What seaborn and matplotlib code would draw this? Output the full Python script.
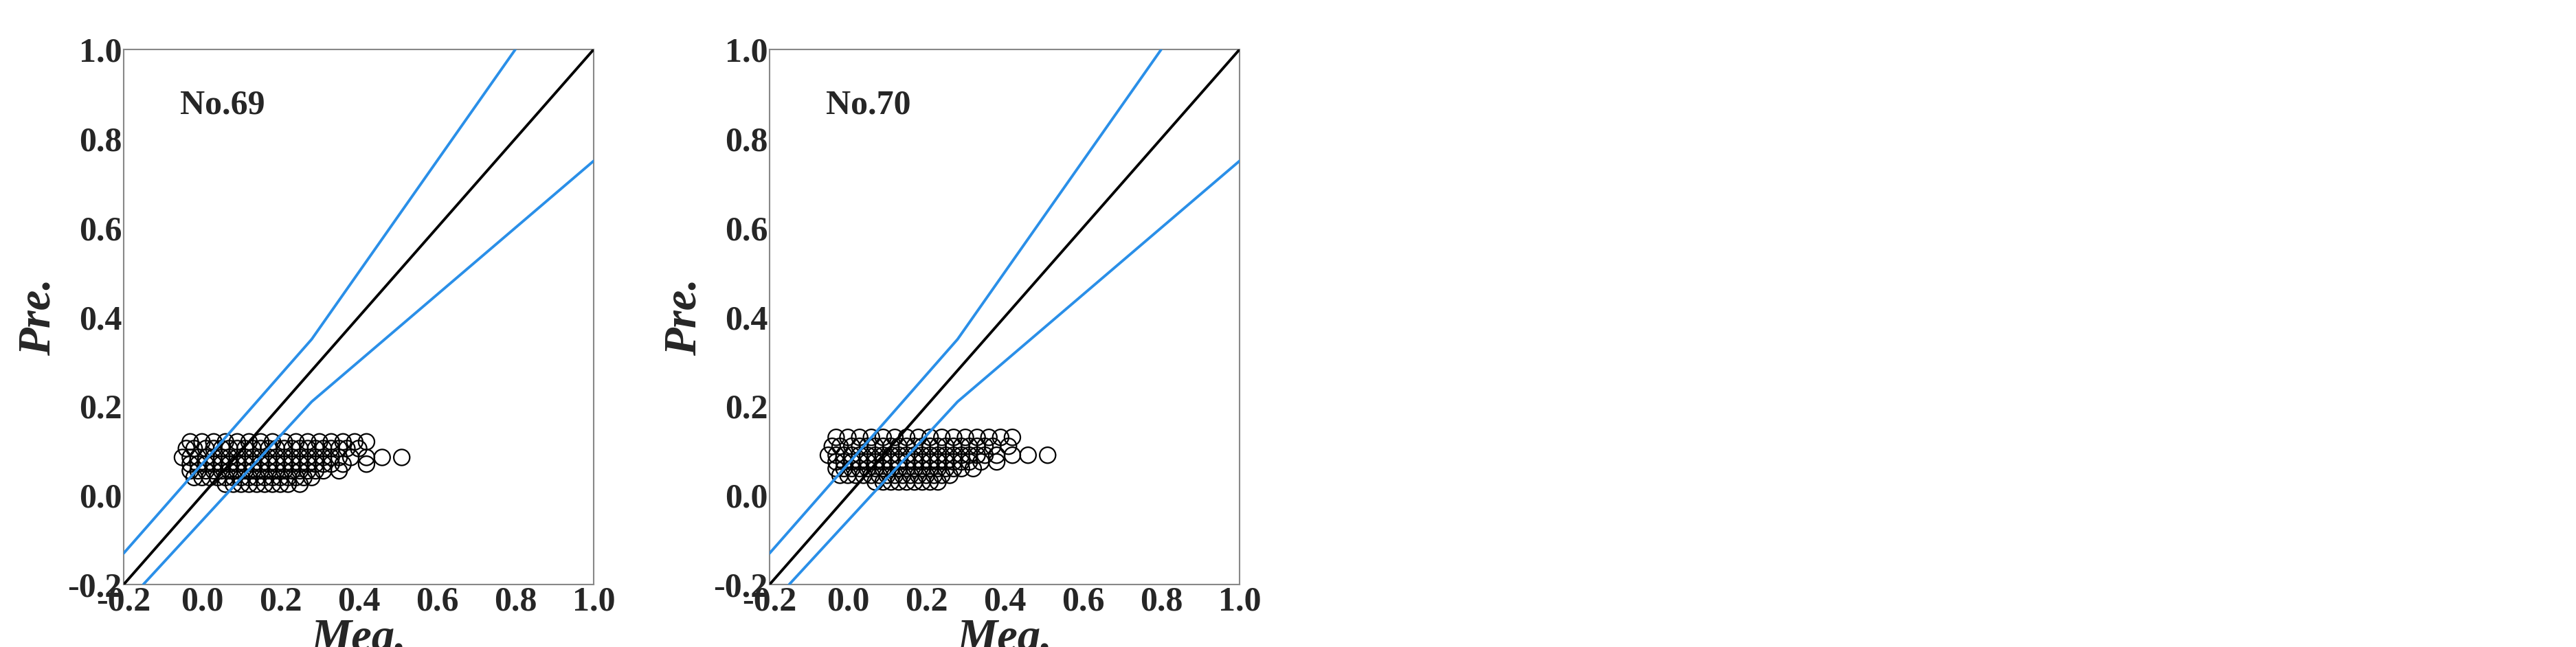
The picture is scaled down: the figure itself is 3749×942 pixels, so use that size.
import matplotlib
matplotlib.use('Agg')
import matplotlib.pyplot as plt
import seaborn as sns
import pandas as pd

sns.set_style('white')
plt.rcParams['font.family'] = ['Liberation Serif', 'DejaVu Serif']
plt.rcParams['font.weight'] = 'bold'

x69 = [-0.03, 0.0, 0.03, 0.06, 0.09, 0.12, 0.15, 0.18, 0.21, 0.24, 0.27, 0.30, 0.33, 0.36, 0.39, 0.42,
       -0.04, -0.02, 0.01, 0.03, 0.05, 0.07, 0.09, 0.11, 0.13, 0.15, 0.17, 0.19, 0.21, 0.23, 0.25, 0.27, 0.29, 0.31, 0.33, 0.35, 0.37, 0.40,
       -0.05, -0.03, -0.01, 0.01, 0.03, 0.05, 0.07, 0.09, 0.11, 0.13, 0.15, 0.17, 0.19, 0.21, 0.23, 0.25, 0.27, 0.29, 0.31, 0.33, 0.35, 0.38, 0.42, 0.46, 0.51,
       -0.03, -0.01, 0.01, 0.03, 0.05, 0.07, 0.09, 0.11, 0.13, 0.15, 0.17, 0.19, 0.21, 0.23, 0.25, 0.27, 0.29, 0.31, 0.33, 0.36, 0.42,
       -0.03, -0.01, 0.01, 0.03, 0.05, 0.07, 0.09, 0.11, 0.13, 0.15, 0.17, 0.19, 0.21, 0.23, 0.25, 0.27, 0.29, 0.31, 0.35,
       -0.02, 0.0, 0.02, 0.04, 0.06, 0.08, 0.10, 0.12, 0.14, 0.16, 0.18, 0.20, 0.22, 0.24, 0.26, 0.28,
       0.06, 0.08, 0.10, 0.12, 0.14, 0.16, 0.18, 0.20, 0.22, 0.25]
y69 = [0.12] * 16 + [0.105] * 22 + [0.085] * 25 + [0.07] * 21 + [0.055] * 19 + [0.04] * 16 + [0.025] * 10

x70 = [-0.03, 0.0, 0.03, 0.06, 0.09, 0.12, 0.15, 0.18, 0.21, 0.24, 0.27, 0.30, 0.33, 0.36, 0.39, 0.42,
       -0.04, -0.02, 0.01, 0.03, 0.05, 0.07, 0.09, 0.11, 0.13, 0.15, 0.17, 0.19, 0.21, 0.23, 0.25, 0.27, 0.29, 0.31, 0.33, 0.35, 0.37, 0.41,
       -0.05, -0.03, -0.01, 0.01, 0.03, 0.05, 0.07, 0.09, 0.11, 0.13, 0.15, 0.17, 0.19, 0.21, 0.23, 0.25, 0.27, 0.29, 0.31, 0.33, 0.35, 0.38, 0.42, 0.46, 0.51,
       -0.03, -0.01, 0.01, 0.03, 0.05, 0.07, 0.09, 0.11, 0.13, 0.15, 0.17, 0.19, 0.21, 0.23, 0.25, 0.27, 0.29, 0.31, 0.34, 0.38,
       -0.03, -0.01, 0.01, 0.03, 0.05, 0.07, 0.09, 0.11, 0.13, 0.15, 0.17, 0.19, 0.21, 0.23, 0.25, 0.27, 0.29, 0.32,
       -0.02, 0.0, 0.02, 0.04, 0.06, 0.08, 0.10, 0.12, 0.14, 0.16, 0.18, 0.20, 0.22, 0.24, 0.26,
       0.07, 0.09, 0.11, 0.13, 0.15, 0.17, 0.19, 0.21, 0.23]
y70 = [0.13] * 16 + [0.11] * 22 + [0.09] * 25 + [0.075] * 20 + [0.06] * 18 + [0.045] * 15 + [0.03] * 9

# +/- error band lines
upper_x = [-0.2, 0.28, 0.8]
upper_y = [-0.13, 0.35, 1.0]
lower_x = [-0.15, 0.28, 1.0]
lower_y = [-0.2, 0.21, 0.75]
ident = [-0.2, 1.0]

panels = [('No.69', x69, y69), ('No.70', x70, y70)]
ticks = [-0.2, 0.0, 0.2, 0.4, 0.6, 0.8, 1.0]

fig = plt.figure(figsize=(37.49, 9.42), dpi=100)
lefts = [180, 1120]
for (name, xs, ys), left in zip(panels, lefts):
    ax = fig.add_axes([left / 3749, (942 - 851) / 942, 684 / 3749, 779 / 942])
    df = pd.DataFrame({'Mea': xs, 'Pre': ys})
    sns.scatterplot(data=df, x='Mea', y='Pre', ax=ax, marker='o', s=280,
                    facecolor='none', edgecolor='black', linewidth=1.6, zorder=2)
    sns.lineplot(x=upper_x, y=upper_y, ax=ax, color='#2a8fe8', lw=2.8, zorder=3)
    sns.lineplot(x=lower_x, y=lower_y, ax=ax, color='#2a8fe8', lw=2.8, zorder=3)
    sns.lineplot(x=ident, y=ident, ax=ax, color='black', lw=2.8, zorder=3)
    ax.set_xlim(-0.2, 1.0)
    ax.set_ylim(-0.2, 1.0)
    ax.set_xticks(ticks)
    ax.set_yticks(ticks)
    ax.set_xticklabels([f'{t:.1f}' for t in ticks], fontsize=36, fontweight='bold')
    ax.set_yticklabels([f'{t:.1f}' for t in ticks], fontsize=36, fontweight='bold')
    ax.tick_params(length=0, pad=2)
    ax.set_xlabel('Mea.', fontsize=48, fontweight='bold', style='italic', labelpad=0)
    ax.set_ylabel('Pre.', fontsize=48, fontweight='bold', style='italic', labelpad=8)
    ax.text(0.12, 0.88, name, transform=ax.transAxes, fontsize=36, fontweight='bold')
    for sp in ax.spines.values():
        sp.set_color('#888888')
        sp.set_linewidth(1.5)

fig.savefig('out.png', dpi=100)
